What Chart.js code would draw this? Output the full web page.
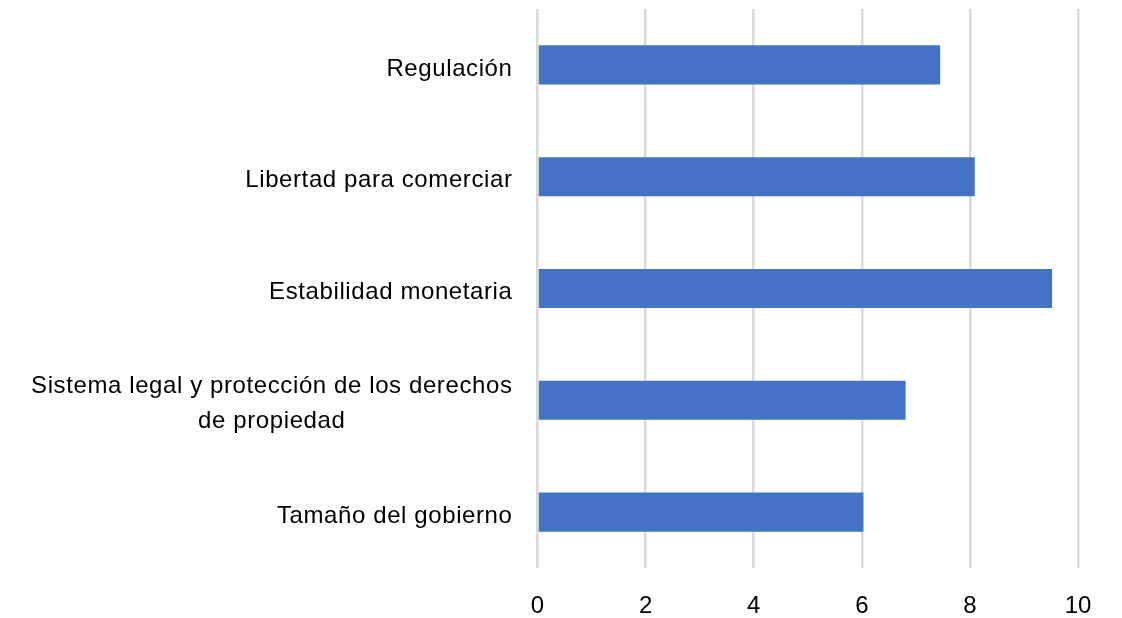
<!DOCTYPE html>
<html>
<head>
<meta charset="utf-8">
<script src="https://cdn.jsdelivr.net/npm/chart.js@4/dist/chart.umd.min.js"></script>
<style>
  html, body { margin: 0; padding: 0; background: #ffffff; }
  #wrap { width: 1122px; height: 618px; }
</style>
</head>
<body>
<div id="wrap"><canvas id="chart"></canvas></div>
<script>
// categories, top to bottom
var categories = [
  "Regulación",
  "Libertad para comerciar",
  "Estabilidad monetaria",
  ["Sistema legal y protección de los derechos", "de propiedad"],
  "Tamaño del gobierno"
];
var scores = [7.45, 8.09, 9.52, 6.81, 6.03];
var xTicks = [0, 2, 4, 6, 8, 10];

var fontFamily = "'Liberation Sans', Arial, sans-serif";
var textColor = "#000000";
var gridColor = "#d9d9d9";
var barColor = "#4472c4";

// y labels drawn by hand so multi-line labels can be centered as a block
var yLabelPlugin = {
  id: "yLabels",
  afterDraw: function(chart)
  {
    var ctx = chart.ctx;
    var yScale = chart.scales.y;
    var right = chart.chartArea.left - 25;
    ctx.save();
    ctx.font = "24px " + fontFamily;
    ctx.fillStyle = textColor;
    ctx.textAlign = "center";
    ctx.textBaseline = "middle";
    if ("letterSpacing" in ctx) ctx.letterSpacing = "0.6px";
    for (var i = 0; i < categories.length; i++)
    {
      var lines = [].concat(categories[i]);
      var w = 0;
      lines.forEach(function(l) { w = Math.max(w, ctx.measureText(l).width); });
      var cx = right - w / 2;
      var cy = yScale.getPixelForTick(i) + 4;
      for (var j = 0; j < lines.length; j++)
      {
        ctx.fillText(lines[j], cx, cy + (j - (lines.length - 1) / 2) * 35);
      }
    }
    ctx.restore();
  }
};

var chart = new Chart(document.getElementById("chart"), {
  type: "bar",
  data: {
    labels: categories,
    datasets: [{
      data: scores,
      backgroundColor: barColor,
      borderWidth: 0,
      barPercentage: 0.35,
      categoryPercentage: 1.0
    }]
  },
  options: {
    indexAxis: "y",
    responsive: true,
    maintainAspectRatio: false,
    animation: false,
    layout: { padding: { top: 9, right: 44, bottom: 0, left: 0 } },
    plugins: {
      legend: { display: false },
      tooltip: { enabled: false }
    },
    scales: {
      x: {
        min: 0,
        max: 10,
        afterBuildTicks: function(scale) {
          scale.ticks = xTicks.map(function(v) { return { value: v }; });
        },
        afterFit: function(scale) { scale.height = 50; },
        grid: { color: gridColor, lineWidth: 2.5, drawTicks: false },
        border: { display: false },
        ticks: {
          padding: 24,
          color: textColor,
          font: { family: fontFamily, size: 24 }
        }
      },
      y: {
        afterFit: function(scale) { scale.width = 537.5; },
        grid: { display: false },
        border: { display: false },
        ticks: { display: false }
      }
    }
  },
  plugins: [yLabelPlugin]
});
</script>
</body>
</html>
